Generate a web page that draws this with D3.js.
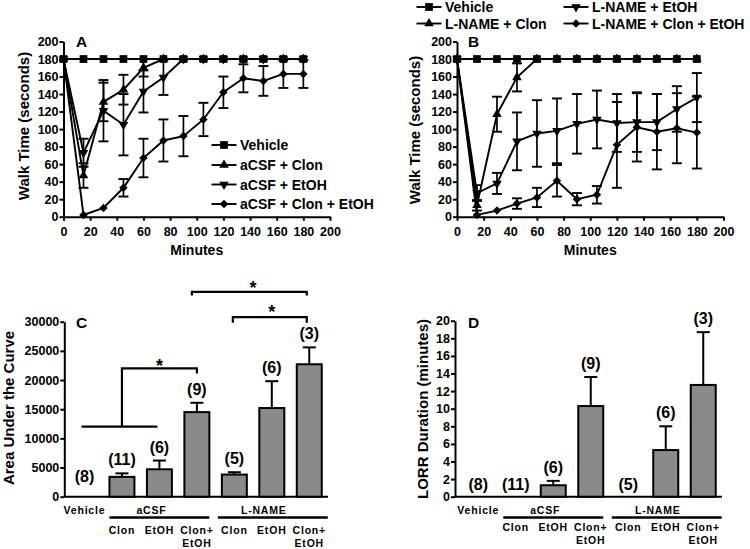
<!DOCTYPE html>
<html><head><meta charset="utf-8">
<script src="https://cdn.jsdelivr.net/npm/d3@7"></script>
<style>
body{margin:0;background:#fff;}
svg{display:block;background:#fff;}
text{font-family:"Liberation Sans",Arial,Helvetica,sans-serif;font-weight:bold;fill:#000;}
</style></head><body>
<svg id="chart" width="750" height="549"></svg>
<script>
// ---------- DATA ----------
const minutes = [0,15,30,45,60,75,90,105,120,135,150,165,180];
const lineTicks = [0,20,40,60,80,100,120,140,160,180,200];

// Panel A (aCSF pretreatment) : mean walk time (s) and SEM
const aVehicle     = [180,180,180,180,180,180,180,180,180,180,180,180,180];
const aVehicleSem  = [0,0,0,0,0,0,0,0,0,0,0,0,0];
const aClon        = [180,47,131,145,170,180,180,180,180,180,180,180,180];
const aClonSem     = [0,14,22,17,10,0,0,0,0,0,0,0,0];
const aEtOH        = [180,73,121,105,143,159,180,180,180,180,180,180,180];
const aEtOHSem     = [0,16,35,35,24,20,0,0,0,0,0,0,0];
const aClonEtOH    = [180,2,10,33,67,87,92,111,142,158,155,163,163];
const aClonEtOHSem = [0,0,0,10,22,24,23,19,18,16,17,16,16];

// Panel B (L-NAME pretreatment)
const bVehicle     = [180,180,180,180,180,180,180,180,180,180,180,180,180];
const bVehicleSem  = [0,0,0,0,0,0,0,0,0,0,0,0,0];
const bClon        = [180,13,117,159,180,180,180,180,180,180,180,180,180];
const bClonSem     = [0,6,20,16,0,0,0,0,0,0,0,0,0];
const bEtOH        = [180,27,38,86,95,98,106,111,107,108,108,123,136];
const bEtOHSem     = [0,9,12,33,38,37,34,33,33,34,32,26,28];
const bClonEtOH    = [180,2,7,15,22,41,20,25,82,102,97,101,96];
const bClonEtOHSem = [0,0,0,6,11,18,7,10,49,39,43,40,41];

// Bar panels
const barCats   = ["Vehicle","aCSF Clon","aCSF EtOH","aCSF Clon+EtOH","L-NAME Clon","L-NAME EtOH","L-NAME Clon+EtOH"];
const barNs     = ["(8)","(11)","(6)","(9)","(5)","(6)","(3)"];
const subLabels = [[],["Clon"],["EtOH"],["Clon+","EtOH"],["Clon"],["EtOH"],["Clon+","EtOH"]];
const aucMean   = [0,3400,4700,14500,3800,15200,22700];
const aucSem    = [0,600,1500,1600,400,4600,2900];
const aucTicks  = [0,5000,10000,15000,20000,25000,30000];
const lorrMean  = [0,0,1.3,10.3,0,5.3,12.7];
const lorrSem   = [0,0,0.5,3.3,0,2.7,6.0];
const lorrTicks = [0,2,4,6,8,10,12,14,16,18,20];

// ---------- DRAW ----------
const svg = d3.select("#chart");
const FONT = '"Liberation Sans",Arial,Helvetica,sans-serif';

const sym = {
  square:  {type:d3.symbolSquare, size:60, rot:0},
  triUp:   {type:d3.symbolTriangle, size:40, rot:0},
  triDown: {type:d3.symbolTriangle, size:40, rot:180},
  diamond: {type:d3.symbolSquare, size:36, rot:45}
};
function marker(g, s, x, y){
  g.append("path").attr("d", d3.symbol(sym[s].type, sym[s].size)())
   .attr("transform", `translate(${x},${y}) rotate(${sym[s].rot})`)
   .attr("fill","#000");
}
function styleAxis(ax){
  ax.select(".domain").attr("stroke","#000").attr("stroke-width",2);
  ax.selectAll(".tick line").attr("stroke","#000").attr("stroke-width",2);
  ax.selectAll("text").attr("font-size",12.5).attr("font-family",FONT).attr("font-weight","bold");
}

function linePanel(cfg){
  const g = svg.append("g");
  const x = d3.scaleLinear().domain([0,200]).range(cfg.xr);
  const y = d3.scaleLinear().domain([0,200]).range(cfg.yr);
  const xa = g.append("g").attr("transform",`translate(0,${cfg.yr[0]})`)
    .call(d3.axisBottom(x).tickValues(lineTicks).tickSize(4).tickSizeOuter(0).tickPadding(6));
  styleAxis(xa);
  const ya = g.append("g").attr("transform",`translate(${cfg.xr[0]},0)`)
    .call(d3.axisLeft(y).tickValues(lineTicks).tickSize(4).tickSizeOuter(0).tickPadding(1));
  styleAxis(ya);

  const line = d3.line().x((d,i)=>x(minutes[i])).y(d=>y(d));
  cfg.series.forEach(s=>{
    s.values.forEach((v,i)=>{
      const e = s.sem[i]; if(!e) return;
      const cx = x(minutes[i]), lo = y(v-e), hi = y(v+e);
      g.append("line").attr("x1",cx).attr("x2",cx).attr("y1",lo).attr("y2",hi).attr("stroke","#000").attr("stroke-width",1.7);
      [lo,hi].forEach(yy=>g.append("line").attr("x1",cx-5).attr("x2",cx+5).attr("y1",yy).attr("y2",yy).attr("stroke","#000").attr("stroke-width",1.9));
    });
  });
  cfg.series.forEach(s=>{
    g.append("path").attr("d",line(s.values)).attr("fill","none").attr("stroke","#000").attr("stroke-width",1.9);
  });
  cfg.series.slice().reverse().forEach(s=>{
    s.values.forEach((v,i)=>marker(g, s.sym, x(minutes[i]), y(v)));
  });
  cfg.legend.forEach(L=>{
    const s = cfg.series[L.idx];
    g.append("line").attr("x1",L.x).attr("x2",L.x+25).attr("y1",L.y).attr("y2",L.y).attr("stroke","#000").attr("stroke-width",1.9);
    marker(g, s.sym, L.x+12.5, L.y);
    g.append("text").attr("x",L.x+28.5).attr("y",L.y+5).attr("font-size",14).text(s.name);
  });
  g.append("text").attr("x",cfg.letter[0]).attr("y",cfg.letter[1]).attr("font-size",15.5).text(cfg.letter[2]);
  g.append("text").attr("transform",`translate(${cfg.ylab[0]},${cfg.ylab[1]}) rotate(-90)`)
    .attr("text-anchor","middle").attr("font-size",15).text("Walk Time (seconds)");
  g.append("text").attr("x",(cfg.xr[0]+cfg.xr[1])/2).attr("y",255).attr("text-anchor","middle").attr("font-size",14).text("Minutes");
}

linePanel({
  xr:[63.5,330], yr:[216.7,41.5],
  series:[
    {name:"Vehicle", sym:"square", values:aVehicle, sem:aVehicleSem},
    {name:"aCSF + Clon", sym:"triUp", values:aClon, sem:aClonSem},
    {name:"aCSF + EtOH", sym:"triDown", values:aEtOH, sem:aEtOHSem},
    {name:"aCSF + Clon + EtOH", sym:"diamond", values:aClonEtOH, sem:aClonEtOHSem}
  ],
  legend:[{idx:0,x:211.5,y:145},{idx:1,x:211.5,y:165},{idx:2,x:211.5,y:184.5},{idx:3,x:211.5,y:204}],
  letter:[76,47,"A"], ylab:[29,126]
});
linePanel({
  xr:[457,723.5], yr:[216.7,41.5],
  series:[
    {name:"Vehicle", sym:"square", values:bVehicle, sem:bVehicleSem},
    {name:"L-NAME + Clon", sym:"triUp", values:bClon, sem:bClonSem},
    {name:"L-NAME + EtOH", sym:"triDown", values:bEtOH, sem:bEtOHSem},
    {name:"L-NAME + Clon + EtOH", sym:"diamond", values:bClonEtOH, sem:bClonEtOHSem}
  ],
  legend:[{idx:0,x:416.5,y:7},{idx:1,x:416.5,y:23.5},{idx:2,x:563.5,y:7},{idx:3,x:563.5,y:23.5}],
  letter:[468,47,"B"], ylab:[419.5,130]
});

function barPanel(cfg){
  const g = svg.append("g");
  const xb = d3.scaleBand().domain(barCats).range(cfg.br).paddingInner(1/3).paddingOuter(1/6);
  const bw = xb.bandwidth();
  const cx = i => xb(barCats[i]) + bw/2;
  const y = d3.scaleLinear().domain([0,cfg.ymax]).range([cfg.yb,cfg.yt]);
  const ya = g.append("g").attr("transform",`translate(${cfg.axisX},0)`)
    .call(d3.axisLeft(y).tickValues(cfg.ticks).tickFormat(d3.format("d")).tickSize(4).tickSizeOuter(0).tickPadding(1));
  styleAxis(ya);
  g.append("line").attr("x1",cfg.axisX).attr("x2",cfg.br[1]).attr("y1",cfg.yb).attr("y2",cfg.yb).attr("stroke","#000").attr("stroke-width",2);

  cfg.values.forEach((v,i)=>{
    const e = cfg.sem[i];
    if(v>0){
      if(e>0){
        g.append("line").attr("x1",cx(i)).attr("x2",cx(i)).attr("y1",y(v)).attr("y2",y(v+e)).attr("stroke","#000").attr("stroke-width",2);
        g.append("line").attr("x1",cx(i)-6.5).attr("x2",cx(i)+6.5).attr("y1",y(v+e)).attr("y2",y(v+e)).attr("stroke","#000").attr("stroke-width",2);
      }
      g.append("rect").attr("x",xb(barCats[i])).attr("y",y(v)).attr("width",bw).attr("height",cfg.yb-y(v))
        .attr("fill","#8a8a8a").attr("stroke","#000").attr("stroke-width",2);
    }
    const ty = v>0 ? y(v+e)-8 : cfg.yb-cfg.emptyLift;
    g.append("text").attr("x",cx(i)).attr("y",ty).attr("text-anchor","middle").attr("font-size",16).text(barNs[i]);
  });

  const small = (t,x,yy)=>g.append("text").attr("x",x).attr("y",yy).attr("text-anchor","middle")
      .attr("font-size",10.5).attr("letter-spacing",0.8).text(t);
  small("Vehicle", cx(0), 514);
  small("aCSF", (cx(1)+cx(3))/2-8, 514);
  small("L-NAME", (cx(4)+cx(6))/2-8, 514);
  g.append("line").attr("x1",xb(barCats[1])).attr("x2",xb(barCats[3])+bw).attr("y1",517.5).attr("y2",517.5).attr("stroke","#000").attr("stroke-width",2.5);
  g.append("line").attr("x1",xb(barCats[4])-4).attr("x2",xb(barCats[6])+bw+6).attr("y1",517.5).attr("y2",517.5).attr("stroke","#000").attr("stroke-width",2.5);
  subLabels.forEach((ls,i)=>ls.forEach((t,k)=>small(t, cx(i), cfg.subY + k*13)));

  g.append("text").attr("x",cfg.letter[0]).attr("y",328).attr("font-size",15.5).text(cfg.letter[1]);
  g.append("text").attr("transform",`translate(${cfg.ylab[0]},${cfg.ylab[1]}) rotate(-90)`)
    .attr("text-anchor","middle").attr("font-size",15).text(cfg.ylab[2]);
  return {g, y, cx};
}

const C = barPanel({br:[65.75,328], axisX:64.3, yb:496.7, yt:321.7, ymax:30000, ticks:aucTicks,
  values:aucMean, sem:aucSem, emptyLift:15, subY:534, letter:[76,"C"], ylab:[13.5,408,"Area Under the Curve"]});
const D = barPanel({br:[459.5,722], axisX:455, yb:496.7, yt:320.7, ymax:20, ticks:lorrTicks,
  values:lorrMean, sem:lorrSem, emptyLift:7, subY:531, letter:[468,"D"], ylab:[428,409,"LORR Duration (minutes)"]});

// significance brackets on panel C
(function(){
  const {g,y,cx} = C;
  const path = d => g.append("path").attr("d",d).attr("fill","none").attr("stroke","#000").attr("stroke-width",2.2);
  const star = (x,yy)=>g.append("text").attr("x",x).attr("y",yy).attr("text-anchor","middle").attr("font-size",18).text("*");
  path(`M${cx(0)-3},${y(12000)}H${cx(2)-2}`);
  path(`M${cx(1)},${y(12000)}V${y(22000)}H${cx(3)}V${y(21100)}`);
  star((cx(1)+cx(3))/2, y(22000)+4);
  path(`M${cx(3)-5},${y(34500)}V${y(35100)}H${cx(6)-2.5}V${y(34500)}`);
  star((cx(3)+cx(6))/2, y(35100)+2);
  path(`M${cx(4)-1.5},${y(29800)}V${y(30800)}H${cx(6)-2.5}V${y(29800)}`);
  star((cx(4)+cx(6))/2, y(30800)+1);
})();
</script>
</body></html>
